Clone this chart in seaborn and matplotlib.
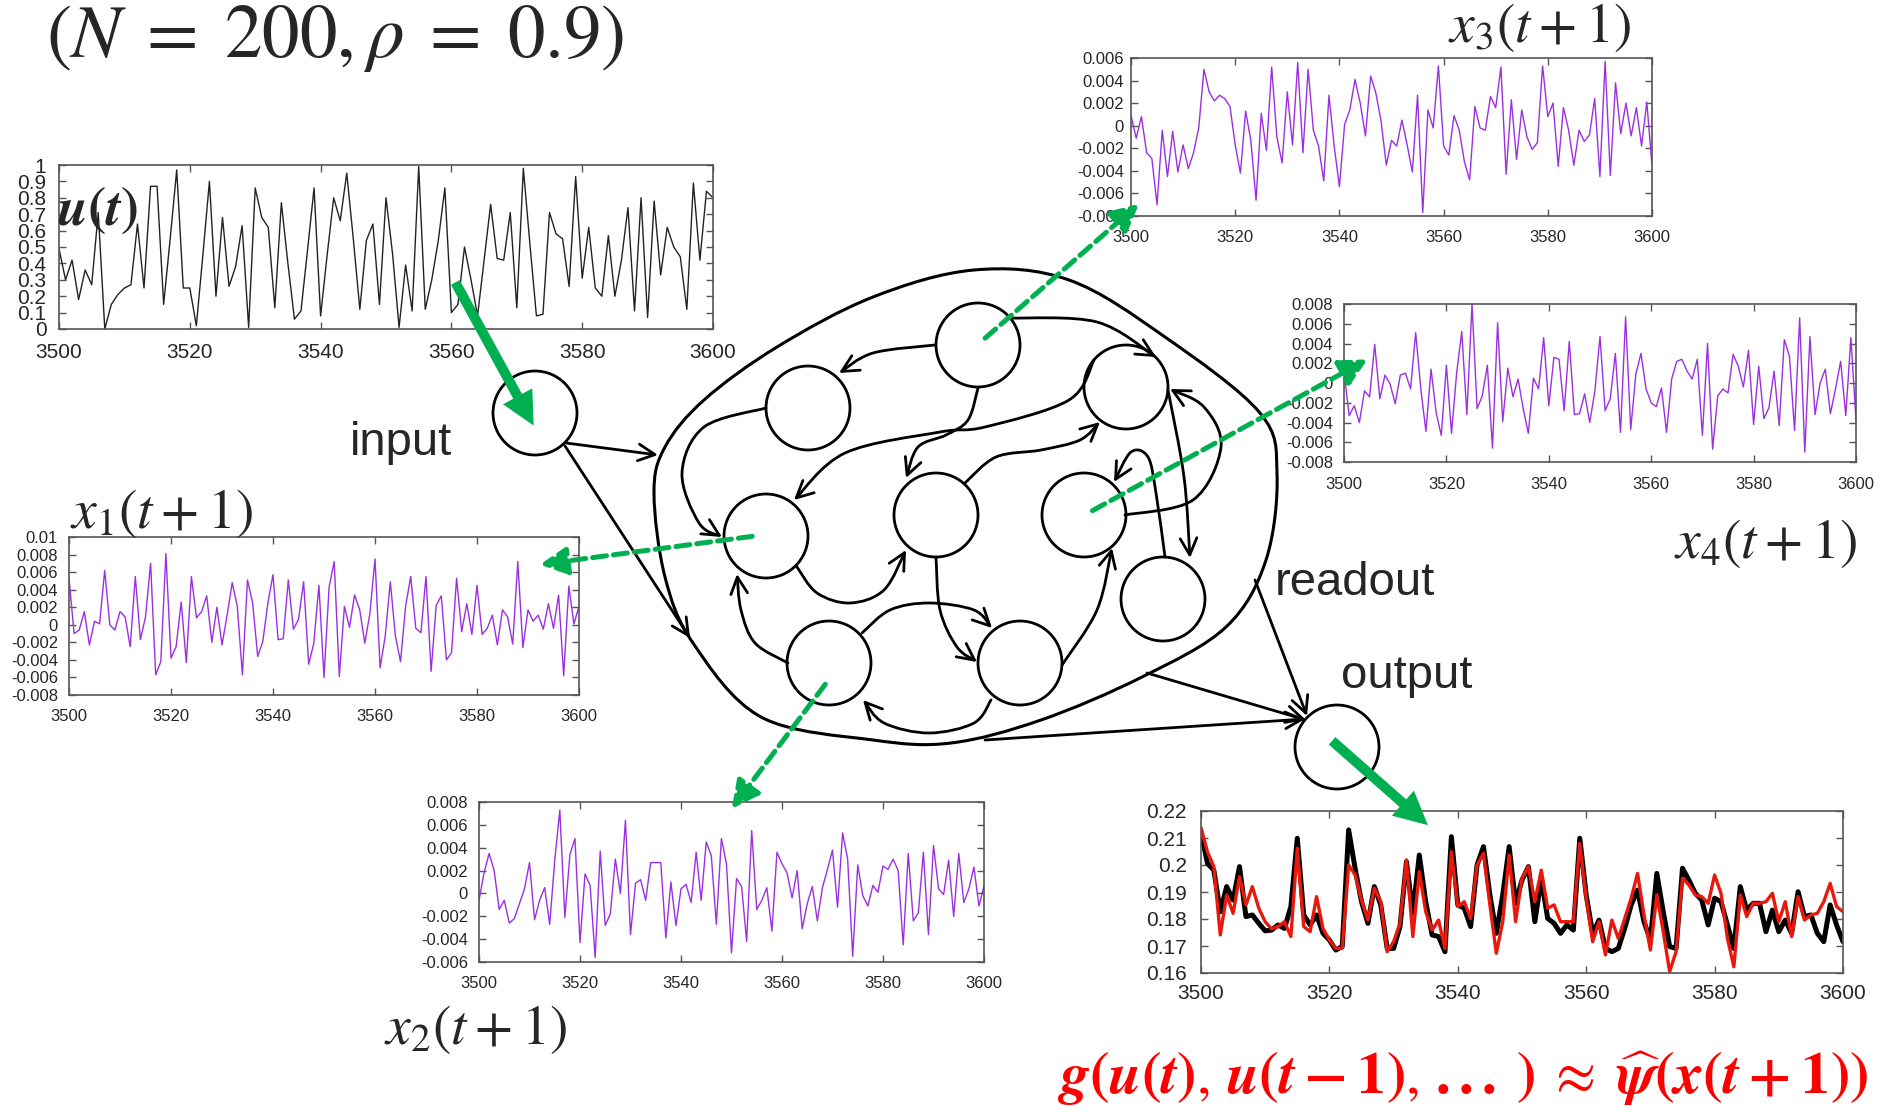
import numpy as np
import matplotlib
matplotlib.use("Agg")
import matplotlib.pyplot as plt
from matplotlib.patches import Circle, FancyArrowPatch, PathPatch
from matplotlib.path import Path
from matplotlib.ticker import FuncFormatter, MultipleLocator
import pandas as pd
import seaborn as sns

# --- dati (t = 3500 ... 3600) ---
t = list(range(3500, 3601))

u_vals = [0.49, 0.30, 0.42, 0.18, 0.36, 0.27, 0.71, 0.00, 0.15, 0.21,
          0.25, 0.27, 0.64, 0.25, 0.87, 0.87, 0.15, 0.55, 0.97, 0.25,
          0.25, 0.02, 0.45, 0.90, 0.20, 0.68, 0.26, 0.38, 0.63, 0.01,
          0.86, 0.68, 0.62, 0.13, 0.77, 0.40, 0.06, 0.11, 0.48, 0.86,
          0.08, 0.45, 0.80, 0.66, 0.95, 0.55, 0.12, 0.54, 0.64, 0.15,
          0.80, 0.46, 0.01, 0.39, 0.11, 0.99, 0.12, 0.30, 0.54, 0.86,
          0.10, 0.15, 0.50, 0.30, 0.08, 0.42, 0.76, 0.43, 0.42, 0.71,
          0.13, 0.98, 0.52, 0.08, 0.09, 0.71, 0.58, 0.55, 0.26, 0.93,
          0.31, 0.62, 0.25, 0.20, 0.57, 0.20, 0.42, 0.74, 0.11, 0.80,
          0.07, 0.78, 0.33, 0.62, 0.50, 0.44, 0.12, 0.89, 0.42, 0.84,
          0.80]

x1_vals = [0.0053, -0.0010, -0.0006, 0.0015, -0.0023, 0.0004, 0.0001, 0.0062, 0.0000, -0.0006,
           0.0015, 0.0009, -0.0025, 0.0055, -0.0017, 0.0009, 0.0070, -0.0057, -0.0042, 0.0081,
           -0.0038, -0.0025, 0.0026, -0.0043, 0.0055, 0.0008, 0.0015, 0.0033, -0.0020, 0.0020,
           -0.0023, 0.0011, 0.0048, 0.0021, -0.0057, 0.0051, 0.0025, -0.0036, -0.0019, 0.0025,
           0.0057, -0.0017, -0.0016, 0.0051, -0.0005, 0.0006, 0.0049, -0.0045, -0.0021, 0.0045,
           -0.0060, 0.0043, 0.0072, -0.0059, 0.0021, -0.0003, 0.0034, 0.0017, -0.0021, 0.0013,
           0.0075, -0.0049, -0.0013, 0.0049, -0.0013, -0.0042, 0.0021, 0.0055, -0.0004, -0.0009,
           0.0055, -0.0053, 0.0022, 0.0033, -0.0040, -0.0032, 0.0053, -0.0008, 0.0024, -0.0011,
           0.0045, -0.0011, -0.0004, 0.0011, -0.0023, 0.0017, 0.0009, -0.0022, 0.0072, -0.0026,
           0.0017, 0.0004, 0.0011, -0.0005, 0.0024, -0.0004, 0.0034, -0.0058, 0.0044, 0.0001,
           0.0021]

x2_vals = [-0.0006, 0.0018, 0.0035, 0.0020, -0.0014, -0.0006, -0.0026, -0.0022, -0.0009, 0.0004,
           0.0027, -0.0023, -0.0006, 0.0005, -0.0027, 0.0029, 0.0073, -0.0021, 0.0034, 0.0048,
           -0.0043, 0.0017, 0.0007, -0.0056, 0.0037, -0.0028, -0.0018, 0.0030, 0.0000, 0.0064,
           -0.0036, 0.0009, 0.0012, -0.0006, 0.0027, 0.0027, 0.0027, -0.0039, 0.0010, -0.0028,
           0.0004, 0.0008, -0.0008, 0.0036, -0.0006, 0.0045, 0.0033, -0.0027, 0.0048, 0.0026,
           -0.0052, 0.0013, 0.0006, -0.0042, 0.0055, -0.0014, -0.0006, 0.0005, -0.0033, 0.0036,
           0.0026, 0.0018, -0.0004, 0.0020, -0.0031, -0.0009, 0.0006, -0.0024, 0.0005, 0.0021,
           0.0038, -0.0012, 0.0053, 0.0030, -0.0055, 0.0025, -0.0002, -0.0011, 0.0007, 0.0001,
           0.0024, 0.0021, 0.0030, 0.0020, -0.0045, 0.0035, -0.0024, -0.0017, 0.0036, -0.0036,
           0.0042, 0.0004, -0.0001, 0.0029, -0.0020, 0.0035, -0.0008, 0.0004, 0.0023, -0.0011,
           0.0007]

x3_vals = [0.0009, -0.0011, 0.0008, -0.0024, -0.0029, -0.0070, -0.0004, -0.0045, -0.0005, -0.0041,
           -0.0017, -0.0038, -0.0024, -0.0002, 0.0050, 0.0030, 0.0022, 0.0027, 0.0024, 0.0017,
           -0.0017, -0.0042, 0.0013, -0.0013, -0.0066, 0.0011, -0.0022, 0.0052, -0.0010, -0.0033,
           0.0030, -0.0017, 0.0056, -0.0024, 0.0050, -0.0004, -0.0018, -0.0049, 0.0027, -0.0018,
           -0.0054, 0.0001, 0.0014, 0.0041, 0.0020, -0.0009, 0.0044, 0.0029, 0.0004, -0.0035,
           -0.0013, -0.0018, 0.0005, -0.0017, -0.0041, 0.0027, -0.0077, 0.0014, -0.0002, 0.0053,
           -0.0018, -0.0026, 0.0009, -0.0004, -0.0032, -0.0048, 0.0017, -0.0002, -0.0004, 0.0026,
           0.0016, 0.0052, -0.0043, 0.0023, -0.0030, 0.0014, -0.0010, -0.0021, -0.0015, 0.0053,
           0.0008, 0.0020, -0.0036, 0.0016, -0.0004, -0.0035, -0.0004, -0.0014, -0.0008, 0.0024,
           -0.0045, 0.0057, -0.0044, 0.0038, -0.0007, 0.0020, -0.0009, 0.0016, -0.0018, 0.0021,
           -0.0035]

x4_vals = [0.0012, -0.0033, -0.0023, -0.0040, -0.0008, -0.0014, 0.0039, -0.0016, 0.0008, -0.0001,
           -0.0021, 0.0008, 0.0010, -0.0006, 0.0051, -0.0006, -0.0049, 0.0014, -0.0030, -0.0053,
           0.0018, -0.0051, 0.0010, 0.0052, -0.0032, 0.0080, -0.0026, -0.0013, 0.0018, -0.0066,
           0.0061, -0.0039, 0.0015, -0.0014, 0.0004, -0.0026, -0.0051, 0.0005, -0.0006, 0.0046,
           -0.0023, 0.0026, 0.0024, -0.0028, 0.0042, -0.0032, -0.0031, -0.0011, -0.0040, -0.0008,
           0.0047, -0.0028, -0.0016, 0.0030, -0.0050, 0.0067, -0.0047, 0.0009, 0.0030, -0.0006,
           -0.0020, -0.0024, -0.0005, -0.0050, 0.0004, 0.0022, 0.0024, 0.0012, 0.0004, 0.0024,
           -0.0053, 0.0040, -0.0067, -0.0013, -0.0006, -0.0010, 0.0029, 0.0017, -0.0004, 0.0033,
           -0.0042, 0.0017, -0.0036, -0.0025, 0.0012, -0.0043, 0.0044, 0.0027, -0.0048, 0.0066,
           -0.0070, 0.0047, -0.0032, 0.0000, 0.0014, -0.0031, -0.0006, 0.0022, -0.0033, 0.0046,
           -0.0038]

target_vals = [0.2123, 0.2006, 0.1981, 0.1827, 0.1920, 0.1870, 0.1994, 0.1809, 0.1815, 0.1784,
               0.1756, 0.1759, 0.1778, 0.1765, 0.1846, 0.2099, 0.1815, 0.1778, 0.1815, 0.1747,
               0.1722, 0.1685, 0.1698, 0.2130, 0.1988, 0.1864, 0.1784, 0.1920, 0.1852, 0.1691,
               0.1691, 0.1772, 0.2012, 0.1821, 0.2037, 0.1864, 0.1741, 0.1735, 0.1679, 0.2105,
               0.1852, 0.1840, 0.1772, 0.2000, 0.2068, 0.1889, 0.1747, 0.1889, 0.2068, 0.1858,
               0.1944, 0.1994, 0.1790, 0.1951, 0.1802, 0.1784, 0.1747, 0.1778, 0.1759, 0.2099,
               0.1889, 0.1747, 0.1796, 0.1691, 0.1679, 0.1691, 0.1765, 0.1852, 0.1907, 0.1790,
               0.1722, 0.1969, 0.1827, 0.1698, 0.1691, 0.1988, 0.1944, 0.1895, 0.1870, 0.1778,
               0.1877, 0.1864, 0.1778, 0.1691, 0.1920, 0.1833, 0.1858, 0.1858, 0.1753, 0.1833,
               0.1753, 0.1796, 0.1747, 0.1901, 0.1809, 0.1815, 0.1747, 0.1716, 0.1852, 0.1778,
               0.1716]

pred_vals = [0.2138, 0.2049, 0.1994, 0.1741, 0.1889, 0.1821, 0.1957, 0.1852, 0.1920, 0.1840,
             0.1790, 0.1763, 0.1772, 0.1790, 0.1735, 0.2062, 0.1772, 0.1753, 0.1883, 0.1765,
             0.1722, 0.1691, 0.1691, 0.2000, 0.1963, 0.1870, 0.1796, 0.1914, 0.1864, 0.1679,
             0.1716, 0.1784, 0.2019, 0.1735, 0.1975, 0.1827, 0.1759, 0.1796, 0.1691, 0.2049,
             0.1846, 0.1864, 0.1802, 0.2000, 0.2043, 0.1852, 0.1673, 0.1790, 0.2037, 0.1790,
             0.1951, 0.1994, 0.1864, 0.1981, 0.1840, 0.1852, 0.1790, 0.1790, 0.1790, 0.2080,
             0.1877, 0.1716, 0.1790, 0.1667, 0.1796, 0.1728, 0.1802, 0.1877, 0.1969, 0.1815,
             0.1685, 0.1889, 0.1753, 0.1605, 0.1679, 0.1951, 0.1926, 0.1889, 0.1883, 0.1858,
             0.1963, 0.1895, 0.1728, 0.1623, 0.1889, 0.1809, 0.1858, 0.1858, 0.1864, 0.1895,
             0.1790, 0.1864, 0.1735, 0.1883, 0.1796, 0.1815, 0.1821, 0.1864, 0.1932, 0.1846,
             0.1827]

x_ticks = [3500, 3520, 3540, 3560, 3580, 3600]

W, H = 1884, 1112
PURPLE = "#9b30e0"
GREEN = "#00b050"

sns.set_style("ticks")
plt.rcParams["font.family"] = ["Liberation Sans", "DejaVu Sans"]
plt.rcParams["mathtext.fontset"] = "stix"
plt.rcParams["axes.unicode_minus"] = False

fig = plt.figure(figsize=(W / 100, H / 100), dpi=100)


def panel(box, ylo, yhi, ystep, fs, xpad, ypad):
    # box = (left, top, right, bottom) in pixel
    l, tp, r, b = box
    ax = fig.add_axes([l / W, 1 - b / H, (r - l) / W, (b - tp) / H])
    ax.set_xlim(3500, 3600)
    ax.set_ylim(ylo, yhi)
    ax.set_xticks(x_ticks)
    ax.yaxis.set_major_locator(MultipleLocator(ystep))
    ax.yaxis.set_major_formatter(FuncFormatter(lambda v, p: f"{round(v, 4):g}"))
    ax.tick_params(direction="in", top=True, right=True, length=5, width=1,
                   color="#555555", labelsize=fs)
    ax.tick_params(axis="x", pad=xpad)
    ax.tick_params(axis="y", pad=ypad)
    for s in ax.spines.values():
        s.set_color("#555555")
        s.set_linewidth(1.2)
    return ax


def smooth_path(pts, closed=False):
    P = np.asarray(pts, float)
    n = len(P)
    verts = [P[0]]
    codes = [Path.MOVETO]
    segs = n if closed else n - 1
    for i in range(segs):
        p0 = P[(i - 1) % n] if (closed or i > 0) else P[0]
        p1 = P[i % n]
        p2 = P[(i + 1) % n]
        p3 = P[(i + 2) % n] if (closed or i + 2 < n) else P[-1]
        verts += [p1 + (p2 - p0) / 6, p2 - (p3 - p1) / 6, p2]
        codes += [Path.CURVE4] * 3
    return Path(verts, codes)


# --- pannelli serie temporali ---
ax_u = panel((59, 165, 713, 329), 0, 1, 0.1, 15, 10, 9)
sns.lineplot(x=t, y=u_vals, ax=ax_u, color="#222222", lw=1.0)

ax_x3 = panel((1131, 58, 1652, 216), -0.008, 0.006, 0.002, 12, 10, 5)
sns.lineplot(x=t, y=x3_vals, ax=ax_x3, color=PURPLE, lw=1.0)

ax_x4 = panel((1344, 304, 1856, 462), -0.008, 0.008, 0.002, 12, 11, 8)
sns.lineplot(x=t, y=x4_vals, ax=ax_x4, color=PURPLE, lw=1.0)

ax_x1 = panel((69, 537, 579, 695), -0.008, 0.01, 0.002, 12, 10, 8)
sns.lineplot(x=t, y=x1_vals, ax=ax_x1, color=PURPLE, lw=1.0)

ax_x2 = panel((479, 802, 984, 962), -0.006, 0.008, 0.002, 12, 10, 8)
sns.lineplot(x=t, y=x2_vals, ax=ax_x2, color=PURPLE, lw=1.0)

ax_out = panel((1201, 811, 1843, 973), 0.16, 0.22, 0.01, 15, 8, 10)
df_out = pd.DataFrame({"t": t, "target": target_vals, "pred": pred_vals})
sns.lineplot(data=df_out, x="t", y="target", ax=ax_out, color="black", lw=3.6)
sns.lineplot(data=df_out, x="t", y="pred", ax=ax_out, color="#e8180c", lw=2.4)

for ax in fig.axes:
    ax.set_xlabel("")
    ax.set_ylabel("")

# --- overlay per il diagramma (coordinate in pixel) ---
ov = fig.add_axes([0, 0, 1, 1])
ov.set_xlim(0, W)
ov.set_ylim(H, 0)
ov.axis("off")
ov.patch.set_alpha(0)
ov.set_zorder(10)

blob = [(974, 270), (1069, 280), (1165, 337), (1260, 413), (1277, 473), (1266, 560),
        (1226, 627), (1142, 677), (1041, 720), (951, 743), (873, 740), (761, 717),
        (693, 643), (665, 577), (654, 493), (665, 447), (704, 400), (777, 347), (873, 297)]
ov.add_patch(PathPatch(smooth_path(blob, closed=True), fill=False, lw=2.2, ec="black"))

nodes = [(978, 345), (808, 408), (1126, 387), (766, 536), (936, 515), (1084, 515),
         (1163, 599), (829, 663), (1020, 663), (535, 413), (1337, 747)]
for c in nodes:
    ov.add_patch(Circle(c, 42, fill=True, fc="white", ec="black", lw=2, zorder=3))

edges = [
    [(935, 345), (873, 353), (839, 373)],
    [(1010, 318), (1097, 322), (1156, 357)],
    [(978, 388), (968, 420), (946, 435), (918, 447), (906, 478)],
    [(1094, 360), (1069, 400), (985, 427), (940, 432), (845, 453), (794, 500)],
    [(766, 408), (704, 427), (682, 473), (699, 523), (722, 537)],
    [(797, 567), (817, 593), (850, 603), (884, 590), (906, 550)],
    [(965, 483), (996, 457), (1041, 450), (1080, 440), (1100, 422)],
    [(1168, 390), (1184, 477), (1190, 558)],
    [(1125, 515), (1193, 500), (1221, 447), (1204, 407), (1170, 389)],
    [(1165, 557), (1156, 493), (1148, 457), (1131, 452), (1114, 482)],
    [(1062, 665), (1097, 610), (1112, 548)],
    [(936, 557), (940, 610), (957, 647), (977, 662)],
    [(862, 633), (890, 610), (929, 603), (974, 610), (992, 628)],
    [(991, 700), (974, 723), (929, 733), (884, 723), (863, 700)],
    [(788, 663), (755, 643), (741, 610), (737, 574)],
    [(566, 443), (658, 455)],
    [(565, 446), (690, 638)],
    [(1255, 580), (1307, 716)],
    [(1147, 673), (1306, 720)],
    [(985, 740), (1305, 719)],
]
for pts in edges:
    ov.add_patch(FancyArrowPatch(path=smooth_path(pts),
                                 arrowstyle="->,head_length=0.6,head_width=0.3",
                                 mutation_scale=20, lw=2, color="black", zorder=4))

# frecce verdi piene
for a, b in [((454, 280), (535, 428)), ((1330, 739), (1430, 827))]:
    ov.add_patch(FancyArrowPatch(a, b, arrowstyle="simple,tail_width=0.36,head_width=1.2,head_length=1.2",
                                 mutation_scale=20, color=GREEN, lw=0, zorder=6))

# frecce verdi tratteggiate
for a, b in [((983, 340), (1141, 202)), ((1090, 512), (1370, 358)),
             ((755, 536), (537, 565)), ((827, 682), (730, 811))]:
    ov.add_patch(FancyArrowPatch(a, b, arrowstyle="-|>,head_length=0.75,head_width=0.38",
                                 mutation_scale=22, color=GREEN, lw=3.6,
                                 linestyle=(0, (2.8, 1.4)), zorder=6))

# --- testi ---
ov.text(46, 38, r"$(N\;=\;200,\rho\;=\;0.9)$", fontsize=54, ha="left", va="center")
ov.text(401, 443, "input", fontsize=34, ha="center", va="center")
ov.text(1355, 583, "readout", fontsize=34, ha="center", va="center")
ov.text(1407, 676, "output", fontsize=34, ha="center", va="center")
ov.text(1448, 27, r"$x_3(t\:+\:1)$", fontsize=40, ha="left", va="center")
ov.text(70, 513, r"$x_1(t\:+\:1)$", fontsize=40, ha="left", va="center")
ov.text(384, 1030, r"$x_2(t\:+\:1)$", fontsize=40, ha="left", va="center")
ov.text(1674, 544, r"$x_4(t\:+\:1)$", fontsize=40, ha="left", va="center")
ov.text(57, 210, r"$\mathbfit{u}\mathbf{(}\mathbfit{t}\mathbf{)}$", fontsize=39,
        ha="left", va="center")
ov.text(1057, 1079,
        r"$\mathbfit{g}\mathbf{(}\mathbfit{u}\mathbf{(}\mathbfit{t}\mathbf{)},\,\mathbfit{u}\mathbf{(}"
        r"\mathbfit{t}\:\mathbf{-}\:\mathbf{1)},\,\mathbf{...}\;\mathbf{)}\;\approx\;"
        r"\widehat{\mathbfit{\psi}}\mathbf{(}\mathbfit{x}\mathbf{(}\mathbfit{t}\:\mathbf{+}\:\mathbf{1))}$",
        fontsize=42, ha="left", va="center", color="#ff0000")

fig.savefig("out.png", dpi=100)
